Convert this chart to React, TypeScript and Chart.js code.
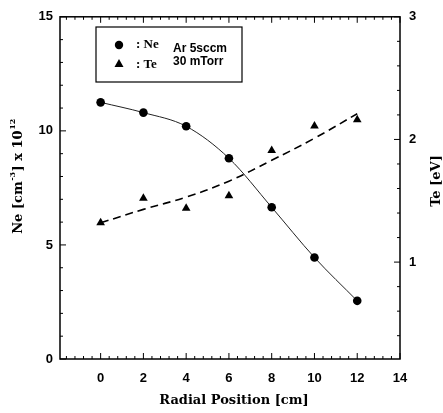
import React, { useEffect, useRef } from "react";
import { Chart, registerables } from "chart.js";

Chart.register(...registerables);

// ---- data ----
const radialPositions = [0, 2, 4, 6, 8, 10, 12];
const neValues = [11.25, 10.8, 10.2, 8.8, 6.65, 4.45, 2.55];
const teValues = [1.32, 1.52, 1.44, 1.54, 1.91, 2.11, 2.16];
const teFitValues = [1.32, 1.43, 1.53, 1.66, 1.83, 2.01, 2.21];
const xTickLabels = [0, 2, 4, 6, 8, 10, 12, 14];
const leftTickLabels = [0, 5, 10, 15];
const rightTickLabels = [1, 2, 3];
const xTitle = "Radial Position [cm]";
const rightTitle = "Te [eV]";
const legendNe = ": Ne";
const legendTe = ": Te";
const legendNote1 = "Ar 5sccm";
const legendNote2 = "30 mTorr";

const SERIF = "'Liberation Serif', 'Times New Roman', serif";
const WIDE_SERIF = "'DejaVu Serif', serif";
const SANS = "'Liberation Sans', Arial, sans-serif";

const pts = (ys: number[]) => radialPositions.map((x, i) => ({ x, y: ys[i] }));

const decorPlugin = {
  id: "decor",
  afterDraw(chart: any) {
    const { ctx, chartArea: a, scales } = chart;
    const xs = scales.x, yl = scales.yL, yr = scales.yR;
    ctx.save();
    ctx.strokeStyle = "#000";
    ctx.fillStyle = "#000";
    // frame
    ctx.lineWidth = 1.5;
    ctx.strokeRect(a.left, a.top, a.right - a.left, a.bottom - a.top);
    ctx.lineWidth = 1;
    // x ticks (bottom & top), minor every 0.4
    for (let k = -4; k <= 35; k++) {
      const v = k * 0.4;
      if (v < xs.min || v > xs.max) continue;
      const px = xs.getPixelForValue(v);
      const major = k % 5 === 0;
      const len = major ? 6 : 3;
      ctx.beginPath();
      ctx.moveTo(px, a.bottom);
      ctx.lineTo(px, a.bottom - len);
      ctx.moveTo(px, a.top);
      ctx.lineTo(px, a.top + len);
      ctx.stroke();
    }
    // left ticks every 1
    for (let k = 0; k <= 15; k++) {
      const py = yl.getPixelForValue(k);
      const len = k % 5 === 0 ? 6 : 3;
      ctx.beginPath();
      ctx.moveTo(a.left, py);
      ctx.lineTo(a.left + len, py);
      ctx.stroke();
    }
    // right ticks every 0.2
    for (let k = 2; k <= 15; k++) {
      const v = k * 0.2;
      if (v < yr.min) continue;
      const py = yr.getPixelForValue(v);
      const len = k % 5 === 0 ? 6 : 3;
      ctx.beginPath();
      ctx.moveTo(a.right, py);
      ctx.lineTo(a.right - len, py);
      ctx.stroke();
    }

    // legend box
    ctx.lineWidth = 1.2;
    ctx.strokeRect(96, 27, 146, 55);
    ctx.beginPath();
    ctx.arc(119, 45, 4.2, 0, Math.PI * 2);
    ctx.fill();
    ctx.beginPath();
    ctx.moveTo(119, 59);
    ctx.lineTo(123.5, 67);
    ctx.lineTo(114.5, 67);
    ctx.closePath();
    ctx.fill();
    ctx.textBaseline = "middle";
    ctx.textAlign = "left";
    ctx.font = `bold 13px ${SERIF}`;
    ctx.fillText(legendNe, 136, 45);
    ctx.fillText(legendTe, 136, 65);
    ctx.font = `bold 12px ${SANS}`;
    ctx.fillText(legendNote1, 173, 49);
    ctx.fillText(legendNote2, 173, 62);

    // bottom title
    ctx.textAlign = "center";
    ctx.font = `bold 13px ${WIDE_SERIF}`;
    ctx.fillText(xTitle, 234, 401);

    // right title
    ctx.save();
    ctx.translate(437, 181);
    ctx.rotate(-Math.PI / 2);
    ctx.font = `bold 13px ${WIDE_SERIF}`;
    ctx.fillText(rightTitle, 0, 0);
    ctx.restore();

    // left title with superscripts
    ctx.save();
    ctx.translate(19, 176);
    ctx.rotate(-Math.PI / 2);
    const parts: [string, boolean][] = [
      ["Ne [cm", false],
      ["-3", true],
      ["] x 10", false],
      ["12", true],
    ];
    const big = `bold 13px ${WIDE_SERIF}`;
    const small = `bold 8px ${WIDE_SERIF}`;
    let total = 0;
    for (const [t, sup] of parts) {
      ctx.font = sup ? small : big;
      total += ctx.measureText(t).width + (sup ? 1 : 0);
    }
    let cx = -total / 2;
    ctx.textAlign = "left";
    for (const [t, sup] of parts) {
      ctx.font = sup ? small : big;
      ctx.fillText(t, cx + (sup ? 0.5 : 0), sup ? -6 : 0);
      cx += ctx.measureText(t).width + (sup ? 1 : 0);
    }
    ctx.restore();

    ctx.restore();
  },
};

export default function App() {
  const ref = useRef<HTMLCanvasElement>(null);
  useEffect(() => {
    if (!ref.current) return;
    const tickFont = { family: SANS, size: 13, weight: "bold" as const };
    const chart = new Chart(ref.current, {
      type: "scatter",
      data: {
        datasets: [
          {
            label: "Ne",
            data: pts(neValues),
            yAxisID: "yL",
            showLine: true,
            borderColor: "#222",
            borderWidth: 1,
            backgroundColor: "#000",
            pointStyle: "circle",
            pointRadius: 4.3,
            pointBorderWidth: 0,
            cubicInterpolationMode: "monotone",
          },
          {
            label: "Te",
            data: pts(teValues),
            yAxisID: "yR",
            showLine: false,
            backgroundColor: "#000",
            borderColor: "#000",
            pointStyle: "triangle",
            pointRadius: 5,
            pointBorderWidth: 0,
          },
          {
            label: "Te fit",
            data: pts(teFitValues),
            yAxisID: "yR",
            showLine: true,
            borderColor: "#000",
            borderWidth: 1.6,
            borderDash: [8, 5],
            pointRadius: 0,
            tension: 0.4,
          },
        ],
      },
      options: {
        responsive: false,
        animation: false,
        layout: { padding: { top: 15, left: 0, right: 0, bottom: 0 } },
        plugins: { legend: { display: false }, tooltip: { enabled: false } },
        scales: {
          x: {
            type: "linear",
            min: -1.9,
            max: 14,
            grid: { display: false, drawTicks: false },
            border: { display: false },
            afterBuildTicks: (s: any) => {
              s.ticks = xTickLabels.map((v) => ({ value: v }));
            },
            afterFit: (s: any) => {
              s.height = 54;
            },
            ticks: { font: tickFont, color: "#000", padding: 12, maxRotation: 0, autoSkip: false },
          },
          yL: {
            type: "linear",
            position: "left",
            min: 0,
            max: 15,
            grid: { display: false, drawTicks: false },
            border: { display: false },
            afterBuildTicks: (s: any) => {
              s.ticks = leftTickLabels.map((v) => ({ value: v }));
            },
            afterFit: (s: any) => {
              s.width = 60;
            },
            ticks: { font: tickFont, color: "#000", padding: 7 },
          },
          yR: {
            type: "linear",
            position: "right",
            min: 0.21,
            max: 3,
            grid: { display: false, drawTicks: false },
            border: { display: false },
            afterBuildTicks: (s: any) => {
              s.ticks = rightTickLabels.map((v) => ({ value: v }));
            },
            afterFit: (s: any) => {
              s.width = 43;
            },
            ticks: { font: tickFont, color: "#000", padding: 9 },
          },
        },
      } as any,
      plugins: [decorPlugin],
    });
    return () => chart.destroy();
  }, []);
  return (
    <div style={{ position: "absolute", left: 0, top: 0, width: 443, height: 413, background: "#fff" }}>
      <canvas ref={ref} width={443} height={413} />
    </div>
  );
}
